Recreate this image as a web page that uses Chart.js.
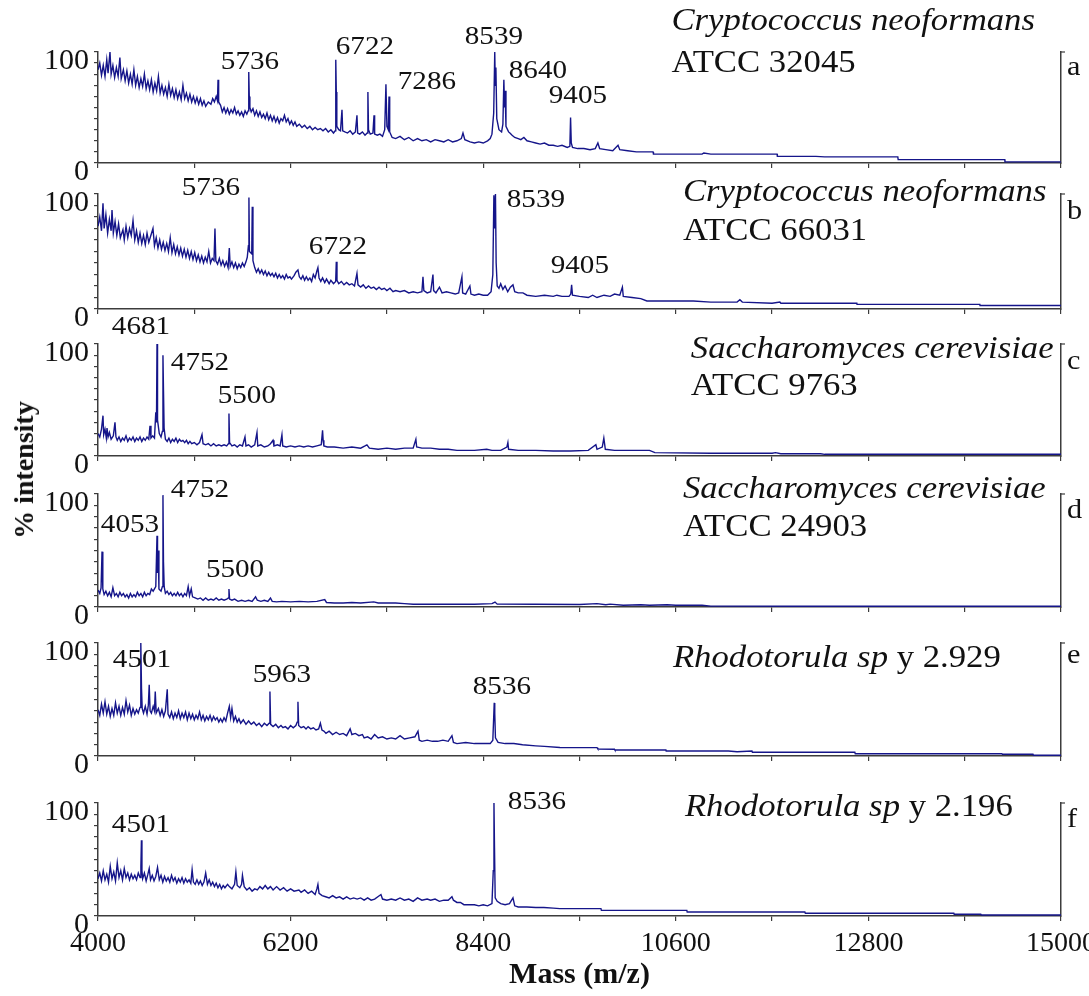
<!DOCTYPE html>
<html>
<head>
<meta charset="utf-8">
<script src="https://cdn.jsdelivr.net/npm/chart.js@4.4.0/dist/chart.umd.min.js"></script>
<style>
  html, body { margin: 0; padding: 0; background: #fff; }
  #wrap { position: relative; width: 1089px; height: 996px; overflow: hidden; background: #fff; }
  #wrap canvas { position: absolute; left: 0; top: 0; }
  #ylab {
    position: absolute; left: 24px; top: 470px;
    transform: translate(-50%, -50%) rotate(-90deg);
    white-space: nowrap; font: bold 28px "Liberation Serif", "Times New Roman", serif; color: #111;
  }
</style>
</head>
<body>
<div id="wrap">
  <canvas id="pa" width="1089" height="996"></canvas>
  <canvas id="pb" width="1089" height="996"></canvas>
  <canvas id="pc" width="1089" height="996"></canvas>
  <canvas id="pd" width="1089" height="996"></canvas>
  <canvas id="pe" width="1089" height="996"></canvas>
  <canvas id="pf" width="1089" height="996"></canvas>
  <div id="ylab">% intensity</div>
</div>
<script>
// labelled ticks
const massTicks = [4000, 6200, 8400, 10600, 12800, 15000];
const intensityTicks = [0, 100];

// spectra, [mass, % intensity]
const specA = [[4000,84],[4020,90],[4040,79],[4060,88],[4080,78],[4100,93],[4115,81],[4137,100],[4150,80],[4170,88],[4190,77],[4210,86],[4230,78],[4250,95],[4265,76],[4290,84],[4310,74],[4330,83],[4350,72],[4370,80],[4390,71],[4410,84],[4430,70],[4450,78],[4470,68],[4490,76],[4510,69],[4530,80],[4550,67],[4570,74],[4590,66],[4610,75],[4630,64],[4650,72],[4670,65],[4690,78],[4710,63],[4730,70],[4750,62],[4770,68],[4790,60],[4810,71],[4830,61],[4850,67],[4870,59],[4890,66],[4910,58],[4930,64],[4950,57],[4970,70],[4990,58],[5010,63],[5030,56],[5050,62],[5070,55],[5090,60],[5110,54],[5130,59],[5150,53],[5170,58],[5190,52],[5210,56],[5230,51],[5260,55],[5290,53],[5310,58],[5330,55],[5350,60],[5365,56],[5371,75],[5378,55],[5400,52],[5420,46],[5440,50],[5460,45],[5480,49],[5500,44],[5520,48],[5540,45],[5560,50],[5580,44],[5600,47],[5620,43],[5640,46],[5660,42],[5680,47],[5700,44],[5715,47],[5722,82],[5728,60],[5735,50],[5750,46],[5770,49],[5790,43],[5810,47],[5830,42],[5850,46],[5870,41],[5890,44],[5910,40],[5930,45],[5950,39],[5970,43],[5990,38],[6010,42],[6030,37],[6050,41],[6070,36],[6090,40],[6110,38],[6130,43],[6150,37],[6170,40],[6190,35],[6210,38],[6230,34],[6250,37],[6270,33],[6300,35],[6330,32],[6360,34],[6390,31],[6420,33],[6450,30],[6480,32],[6510,30],[6540,31],[6570,29],[6600,31],[6630,28],[6660,30],[6690,27],[6710,29],[6716,93],[6722,64],[6728,33],[6750,30],[6770,29],[6787,48],[6795,29],[6820,28],[6850,27],[6880,29],[6910,26],[6940,28],[6958,43],[6966,27],[6990,26],[7020,28],[7050,25],[7075,27],[7083,64],[7090,30],[7110,26],[7140,27],[7153,43],[7160,26],[7190,25],[7220,26],[7250,24],[7275,30],[7289,71],[7300,33],[7316,30],[7324,60],[7332,28],[7360,23],[7400,22],[7450,24],[7500,21],[7550,23],[7600,20],[7650,22],[7700,20],[7750,21],[7800,19],[7850,21],[7900,20],[7950,19],[8000,21],[8050,19],[8100,20],[8150,22],[8169,27],[8190,21],[8250,19],[8300,18],[8350,19],[8400,18],[8450,20],[8480,22],[8500,26],[8520,45],[8532,100],[8538,70],[8545,86],[8555,40],[8580,30],[8610,28],[8625,35],[8636,75],[8644,50],[8650,65],[8660,33],[8690,28],[8705,27],[8730,25],[8760,23],[8800,22],[8830,21],[8865,23],[8900,20],[8950,19],[9000,18],[9050,17],[9100,18],[9150,16],[9200,16],[9250,15],[9300,16],[9360,14],[9390,15],[9398,41],[9406,18],[9420,14],[9480,13],[9550,13],[9620,12],[9680,13],[9710,18],[9730,13],[9800,12],[9880,11],[9940,16],[9960,12],[10050,11],[10150,10],[10340,10],[10345,8],[10700,8],[10900,8],[10920,9],[11000,8],[11400,8],[11757,8],[11760,6],[12200,6],[12300,5.5],[13136,5.5],[13140,3],[14358,3],[14360,1],[15000,1]];

const specB = [[4000,72],[4020,80],[4040,68],[4057,92],[4070,70],[4090,82],[4110,66],[4130,78],[4150,68],[4160,86],[4175,66],[4195,76],[4215,64],[4235,74],[4255,62],[4285,69],[4300,60],[4320,72],[4340,62],[4360,70],[4380,64],[4400,77],[4420,60],[4440,68],[4460,58],[4480,66],[4500,57],[4520,64],[4540,56],[4560,66],[4580,58],[4600,63],[4628,70],[4645,55],[4665,62],[4685,53],[4705,60],[4725,52],[4745,58],[4765,51],[4785,57],[4805,50],[4825,62],[4845,49],[4865,56],[4885,48],[4905,54],[4925,47],[4945,53],[4965,46],[4985,52],[5005,45],[5025,51],[5045,44],[5065,50],[5085,43],[5105,49],[5125,42],[5145,47],[5165,41],[5185,46],[5205,40],[5225,45],[5245,41],[5265,50],[5285,40],[5305,44],[5325,42],[5336,70],[5346,42],[5366,39],[5386,44],[5406,38],[5426,42],[5446,37],[5466,41],[5486,36],[5500,53],[5510,37],[5530,41],[5550,36],[5570,40],[5590,35],[5610,39],[5630,36],[5650,40],[5670,37],[5690,41],[5705,45],[5718,55],[5724,97],[5730,50],[5756,48],[5762,89],[5770,42],[5790,36],[5810,32],[5830,35],[5850,31],[5870,34],[5890,30],[5910,33],[5930,29],[5950,32],[5970,29],[5990,31],[6010,28],[6030,31],[6050,27],[6070,30],[6090,27],[6110,29],[6130,26],[6150,30],[6170,27],[6192,28],[6210,26],[6240,29],[6260,32],[6284,34],[6300,28],[6320,26],[6340,29],[6360,25],[6380,28],[6400,25],[6420,27],[6440,24],[6460,30],[6480,27],[6500,33],[6512,36],[6525,27],[6545,24],[6565,27],[6590,23],[6610,26],[6640,22],[6660,25],[6690,22],[6715,24],[6722,41],[6730,25],[6750,22],[6780,24],[6810,21],[6840,23],[6870,21],[6900,22],[6930,20],[6958,31],[6970,21],[7000,19],[7030,21],[7060,18],[7090,20],[7120,18],[7150,19],[7180,17],[7210,19],[7240,17],[7270,18],[7300,16],[7335,18],[7370,15],[7400,16],[7450,15],[7500,16],[7550,14],[7600,15],[7650,14],[7700,15],[7712,28],[7722,16],[7760,14],[7800,15],[7826,30],[7834,16],[7860,14],[7900,19],[7930,14],[7980,15],[8030,14],[8080,13],[8120,14],[8157,28],[8165,14],[8200,13],[8248,20],[8260,13],[8300,12],[8350,13],[8400,12],[8450,12],[8490,15],[8510,30],[8522,99],[8530,70],[8540,100],[8548,40],[8560,20],[8580,18],[8600,22],[8625,17],[8650,20],[8680,15],[8710,19],[8740,21],[8760,15],[8800,14],[8854,14],[8900,12],[9000,11],[9100,12],[9200,11],[9242,12],[9300,11],[9380,11],[9400,13],[9410,21],[9420,12],[9500,11],[9600,10],[9650,12],[9700,10],[9780,12],[9850,11],[9900,13],[9960,12],[9990,19],[10000,11],[10100,10],[10200,9],[10270,7],[10500,7],[10800,7],[11000,6],[11300,6],[11332,8],[11360,6],[11700,5],[11789,6],[11800,5],[12668,5],[12670,4],[14073,4],[14075,3],[15000,3]];

const specC = [[4000,20],[4020,17],[4040,24],[4057,36],[4065,19],[4080,24],[4095,16],[4103,25],[4115,17],[4130,21],[4150,15],[4175,18],[4194,30],[4205,17],[4220,14],[4240,17],[4260,13],[4280,16],[4300,14],[4320,18],[4340,13],[4360,16],[4380,14],[4400,17],[4420,13],[4440,16],[4460,14],[4480,17],[4500,13],[4520,16],[4540,14],[4560,17],[4580,15],[4594,27],[4605,16],[4625,18],[4645,16],[4660,39],[4668,30],[4674,100],[4680,32],[4700,20],[4720,17],[4735,22],[4742,90],[4748,59],[4755,25],[4770,15],[4790,13],[4810,16],[4830,12],[4850,15],[4870,13],[4890,16],[4910,12],[4930,15],[4950,13],[4970,14],[4990,12],[5010,14],[5030,11],[5050,13],[5070,11],[5100,12],[5130,10],[5160,12],[5188,19],[5200,11],[5230,10],[5260,11],[5290,9],[5320,11],[5350,9],[5380,10],[5410,9],[5440,10],[5470,9],[5490,11],[5496,38],[5503,12],[5530,9],[5560,10],[5590,8],[5620,10],[5650,9],[5679,17],[5690,9],[5720,10],[5750,8],[5790,10],[5816,21],[5825,9],[5860,10],[5900,8],[5940,9],[5970,11],[5999,14],[6010,9],[6050,10],[6080,9],[6101,19],[6110,9],[6150,8],[6200,9],[6250,8],[6300,9],[6350,8],[6400,9],[6450,8],[6500,9],[6550,10],[6565,23],[6572,14],[6580,9],[6620,8],[6700,8],[6800,7],[6900,8],[7000,7],[7050,9],[7072,10],[7100,7],[7200,6],[7300,7],[7400,6],[7500,7],[7600,7],[7631,15],[7640,8],[7700,7],[7800,7],[7900,6],[8000,6],[8100,5],[8200,5],[8300,5],[8440,6],[8500,5],[8600,5],[8670,8],[8682,12],[8690,6],[8800,5],[9000,5],[9200,4.5],[9400,4.5],[9600,5],[9687,10],[9700,6],[9760,8],[9778,16],[9795,6],[9900,5],[10300,5],[10361,3],[11000,2.5],[11700,2.5],[11740,3],[11800,2],[12254,2],[12300,1.5],[15000,1.5]];

const specD = [[4000,15],[4020,12],[4035,17],[4046,49],[4055,16],[4070,11],[4090,14],[4110,10],[4130,13],[4150,9],[4170,17],[4190,10],[4210,12],[4230,9],[4250,13],[4270,10],[4290,12],[4310,9],[4330,11],[4350,8],[4370,12],[4390,9],[4410,11],[4430,9],[4450,13],[4470,10],[4490,12],[4510,9],[4530,13],[4550,10],[4570,12],[4590,11],[4610,16],[4630,14],[4660,18],[4674,63],[4680,30],[4688,50],[4696,16],[4720,14],[4735,18],[4742,99],[4748,40],[4756,18],[4770,12],[4790,14],[4810,11],[4830,13],[4850,10],[4870,12],[4890,10],[4910,13],[4930,10],[4950,12],[4970,9],[4990,12],[5010,10],[5030,18],[5045,10],[5065,16],[5080,9],[5110,8],[5140,7],[5170,8],[5200,6],[5230,8],[5260,6],[5290,7],[5320,6],[5350,8],[5380,6],[5410,7],[5440,6],[5470,7],[5490,8],[5496,16],[5503,7],[5530,6],[5560,7],[5600,5],[5640,6],[5680,5],[5720,6],[5760,5],[5800,9],[5820,6],[5860,5],[5900,6],[5940,5],[5970,8],[5990,5],[6040,4.5],[6100,5],[6200,4.5],[6300,5],[6400,4.5],[6500,5],[6590,6.5],[6610,4],[6700,3.5],[6800,3.5],[6900,4],[7000,3.5],[7150,4.5],[7200,3.5],[7300,3.5],[7400,3.5],[7500,3],[7600,2.5],[7800,2.5],[8000,2.5],[8300,2.5],[8500,3],[8535,4.4],[8560,2.5],[9000,2.4],[9500,2.2],[9700,3],[9800,2],[9850,2.5],[10000,1.5],[10200,2],[10300,1.5],[10500,2],[10600,1.5],[10900,1.5],[11000,0.8],[12000,0.7],[15000,0.6]];

const specE = [[4000,41],[4020,36],[4040,46],[4060,38],[4080,48],[4100,37],[4120,44],[4140,35],[4160,42],[4180,36],[4200,47],[4220,38],[4240,44],[4260,36],[4280,43],[4300,37],[4320,49],[4340,39],[4360,45],[4380,36],[4400,42],[4420,37],[4440,41],[4460,38],[4480,43],[4487,72],[4491,100],[4497,60],[4505,42],[4520,38],[4540,44],[4560,37],[4575,45],[4585,63],[4595,40],[4610,38],[4630,44],[4645,40],[4654,57],[4665,38],[4690,42],[4710,36],[4730,41],[4750,35],[4770,40],[4791,59],[4800,37],[4820,34],[4840,39],[4860,33],[4880,38],[4900,34],[4920,40],[4940,33],[4960,38],[4980,34],[5000,39],[5020,32],[5040,38],[5060,33],[5080,37],[5100,32],[5120,36],[5140,33],[5160,39],[5180,32],[5200,36],[5220,31],[5240,35],[5260,32],[5280,36],[5300,31],[5320,35],[5340,32],[5360,34],[5380,30],[5400,33],[5420,30],[5440,34],[5460,31],[5480,38],[5500,44],[5515,34],[5530,42],[5550,31],[5570,35],[5590,30],[5610,33],[5630,29],[5660,32],[5690,28],[5720,31],[5750,28],[5780,30],[5810,27],[5840,29],[5870,26],[5900,29],[5930,27],[5955,29],[5964,57],[5972,28],[6000,26],[6030,28],[6060,25],[6090,27],[6113,25],[6140,26],[6170,24],[6200,27],[6230,25],[6260,27],[6275,30],[6284,48],[6292,27],[6320,25],[6350,26],[6376,24],[6400,26],[6430,24],[6460,25],[6490,23],[6520,24],[6540,29],[6558,23],[6580,22],[6604,20],[6640,22],[6680,19],[6720,21],[6760,19],[6800,20],[6840,18],[6880,24],[6900,19],[6940,20],[6980,18],[7020,19],[7040,16],[7080,17],[7120,15],[7160,19],[7200,16],[7250,17],[7300,15],[7350,16],[7400,15],[7450,18],[7500,15],[7560,16],[7620,17],[7655,22],[7670,14],[7700,13],[7760,14],[7820,13],[7880,13],[7940,14],[8000,13],[8043,18],[8060,12],[8100,11],[8200,12],[8300,11],[8400,11],[8480,11],[8510,14],[8526,47],[8532,38],[8540,16],[8570,12],[8650,11],[8750,11],[8850,10],[9000,9],[9100,8.5],[9276,7.5],[9700,7.4],[9710,6.2],[9900,6],[9905,5.3],[10487,5.3],[10490,4.4],[11200,4.4],[11300,3.8],[11470,4.4],[11475,3.3],[12645,3.3],[12650,2],[14324,2],[14330,1.5],[14680,1.5],[14685,0.6],[15000,0.6]];

const specF = [[4000,33],[4020,38],[4040,31],[4060,40],[4080,32],[4100,37],[4120,30],[4140,44],[4160,33],[4180,39],[4200,31],[4220,47],[4240,34],[4260,40],[4280,32],[4300,42],[4320,34],[4340,38],[4360,32],[4380,37],[4400,33],[4420,36],[4440,32],[4460,38],[4480,34],[4490,44],[4496,67],[4502,40],[4510,33],[4530,38],[4550,31],[4570,37],[4585,42],[4600,32],[4620,36],[4640,31],[4660,35],[4680,43],[4700,32],[4720,36],[4740,30],[4760,35],[4780,31],[4800,34],[4820,30],[4840,36],[4860,31],[4880,34],[4900,29],[4920,33],[4940,30],[4960,34],[4980,29],[5000,33],[5020,30],[5040,32],[5060,29],[5075,41],[5090,30],[5110,28],[5130,32],[5150,28],[5170,31],[5190,27],[5210,30],[5230,38],[5250,28],[5270,32],[5290,27],[5310,30],[5330,26],[5350,29],[5370,25],[5390,28],[5410,24],[5430,27],[5450,25],[5480,28],[5500,26],[5530,24],[5560,28],[5575,39],[5590,27],[5620,25],[5640,28],[5650,36],[5670,26],[5700,23],[5730,25],[5760,22],[5790,24],[5820,23],[5850,26],[5880,24],[5910,27],[5940,24],[5970,26],[6000,23],[6040,26],[6080,23],[6120,25],[6160,22],[6200,24],[6240,22],[6295,23],[6320,21],[6360,23],[6400,20],[6440,22],[6480,19],[6500,24],[6512,28],[6525,20],[6560,18],[6600,17],[6640,16],[6680,18],[6720,16],[6760,17],[6800,15],[6840,17],[6880,15],[6920,16],[6960,15],[7000,16],[7040,14],[7080,16],[7120,14],[7160,15],[7232,19],[7250,15],[7300,14],[7350,15],[7400,14],[7450,16],[7500,14],[7550,15],[7600,13],[7650,16],[7700,14],[7760,15],[7800,14],[7850,15],[7900,13],[7950,14],[8000,14],[8043,17],[8060,14],[8100,12],[8140,12],[8180,10],[8250,10],[8300,10],[8350,9],[8400,10],[8450,9],[8500,11],[8515,40],[8523,100],[8529,61],[8537,16],[8560,13],[8600,11],[8650,10],[8700,11],[8740,16],[8760,9],[8800,8],[8900,8],[9000,7.5],[9093,7.5],[9200,7],[9276,6.5],[9745,6.5],[9750,5],[10726,5],[10730,3.6],[12074,3.6],[12080,2.4],[13776,2.4],[13780,1.5],[14084,1.5],[14090,0.9],[15000,0.9]];

const FONT = '"Liberation Serif", "Times New Roman", serif';
const TRACE = '#15158a';
const AXIS = '#3c3c3c';
const STRETCH = 1.12;

// panel layout: pixel band of each plot, and its annotations [text, mass, level]
const panels = [
  { id: 'pa', data: specA, top: 52, bottom: 163, zeroShift: 4, letter: ['a', 86],
    peaks: [['5736', 5736, 91], ['6722', 7049, 104.5], ['7286', 7757, 73], ['8539', 8522, 113.5], ['8640', 9025, 83], ['9405', 9482, 60]],
    species: [[[['Cryptococcus neoformans', true]], 10550, 127], [[['ATCC 32045', false]], 10550, 89]] },
  { id: 'pb', data: specB, top: 194, bottom: 309, zeroShift: 4, letter: ['b', 84],
    peaks: [['5736', 5290, 105], ['6722', 6741, 54], ['8539', 9002, 95], ['9405', 9504, 37]],
    species: [[[['Cryptococcus neoformans', true]], 10681, 101], [[['ATCC 66031', false]], 10681, 67]] },
  { id: 'pc', data: specC, top: 344, bottom: 456, zeroShift: 4, letter: ['c', 84],
    peaks: [['4681', 4491, 115], ['4752', 5165, 83], ['5500', 5700, 53]],
    species: [[[['Saccharomyces cerevisiae', true]], 10772, 95], [[['ATCC 9763', false]], 10772, 62]] },
  { id: 'pd', data: specD, top: 494, bottom: 607, zeroShift: 4, letter: ['d', 85],
    peaks: [['4053', 4365, 72.5], ['4752', 5165, 103.5], ['5500', 5565, 33]],
    species: [[[['Saccharomyces cerevisiae', true]], 10681, 103.5], [[['ATCC 24903', false]], 10681, 70]] },
  { id: 'pe', data: specE, top: 643, bottom: 756, zeroShift: 4, letter: ['e', 89],
    peaks: [['4501', 4502, 85], ['5963', 6100, 71.5], ['8536', 8614, 61]],
    species: [[[['Rhodotorula sp', true], [' y 2.929', false]], 10567, 86]] },
  { id: 'pf', data: specF, top: 803, bottom: 916, zeroShift: -9, letter: ['f', 85],
    peaks: [['4501', 4491, 80.5], ['8536', 9014, 101]],
    species: [[[['Rhodotorula sp', true], [' y 2.196', false]], 10704, 95.5]] }
];

function drawParts(ctx, parts, x, y, align, size) {
  ctx.save();
  ctx.translate(x, y);
  ctx.scale(STRETCH, 1);
  ctx.textAlign = 'left';
  ctx.textBaseline = 'middle';
  let total = 0;
  parts.forEach(([t, it]) => {
    ctx.font = (it ? 'italic ' : '') + size + 'px ' + FONT;
    total += ctx.measureText(t).width;
  });
  let cx = align === 'center' ? -total / 2 : 0;
  parts.forEach(([t, it]) => {
    ctx.font = (it ? 'italic ' : '') + size + 'px ' + FONT;
    ctx.fillText(t, cx, 0);
    cx += ctx.measureText(t).width;
  });
  ctx.restore();
}

// peak numbers, species names and panel letter
const annotate = {
  id: 'annotate',
  afterDraw(chart, args, opts) {
    const { ctx, chartArea } = chart;
    const xs = chart.scales.x, ys = chart.scales.y;
    ctx.save();
    ctx.fillStyle = '#111';
    opts.peaks.forEach(([t, m, v]) => {
      drawParts(ctx, [[t, false]], xs.getPixelForValue(m), ys.getPixelForValue(v), 'center', 26);
    });
    opts.species.forEach(([parts, m, v]) => {
      drawParts(ctx, parts, xs.getPixelForValue(m), ys.getPixelForValue(v), 'left', 31);
    });
    drawParts(ctx, [[opts.letter[0], false]], chartArea.right + 6, ys.getPixelForValue(opts.letter[1]), 'left', 27);
    // small cap on the right frame line
    ctx.strokeStyle = AXIS;
    ctx.lineWidth = 1.2;
    ctx.beginPath();
    ctx.moveTo(chartArea.right, chartArea.top);
    ctx.lineTo(chartArea.right + 4, chartArea.top);
    ctx.stroke();
    ctx.restore();
  }
};

panels.forEach((p, i) => {
  const last = i === panels.length - 1;
  const xHeight = last ? 80 : 10;
  new Chart(document.getElementById(p.id), {
    type: 'line',
    data: {
      datasets: [{
        data: p.data.map(([m, v]) => ({ x: m, y: v })),
        borderColor: TRACE,
        borderWidth: 1.4,
        pointRadius: 0,
        tension: 0,
        fill: false
      }]
    },
    plugins: [annotate],
    options: {
      responsive: false,
      animation: false,
      events: [],
      layout: { padding: { left: 38, right: 0, top: p.top, bottom: 996 - p.bottom - xHeight } },
      plugins: {
        legend: { display: false },
        tooltip: { enabled: false },
        annotate: { peaks: p.peaks, species: p.species, letter: p.letter }
      },
      scales: {
        x: {
          type: 'linear',
          min: 4000,
          max: 15000,
          afterFit: s => { s.height = xHeight; s.paddingLeft = 0; s.paddingRight = 0; },
          border: { color: AXIS, width: 1.5 },
          grid: { drawOnChartArea: false, drawTicks: true, tickLength: 5, color: AXIS, lineWidth: 1.2 },
          ticks: {
            display: last,
            stepSize: 1100,
            autoSkip: false,
            maxRotation: 0,
            padding: 6,
            color: '#111',
            font: { family: FONT, size: 28 },
            callback: v => massTicks.includes(v) ? String(v) : ''
          },
          title: {
            display: last,
            text: 'Mass (m/z)',
            color: '#111',
            font: { family: FONT, size: 30, weight: 'bold' },
            padding: { top: 0, bottom: 3 }
          }
        },
        y: {
          min: 0,
          max: 100,
          afterFit: s => { s.width = 60; },
          border: { color: AXIS, width: 1.5 },
          grid: { drawOnChartArea: false, tickLength: 4, color: AXIS, lineWidth: 1.2 },
          ticks: {
            stepSize: 10,
            autoSkip: false,
            padding: 5,
            labelOffset: c => (c.tick && c.tick.value === 0) ? p.zeroShift : 9,
            color: '#111',
            font: { family: FONT, size: 30 },
            callback: v => intensityTicks.includes(v) ? String(v) : ''
          }
        },
        yr: {
          position: 'right',
          min: 0,
          max: 100,
          afterFit: s => { s.width = 28; },
          border: { color: AXIS, width: 1.5 },
          grid: { display: false },
          ticks: { display: false }
        }
      }
    }
  });
});
</script>
</body>
</html>
